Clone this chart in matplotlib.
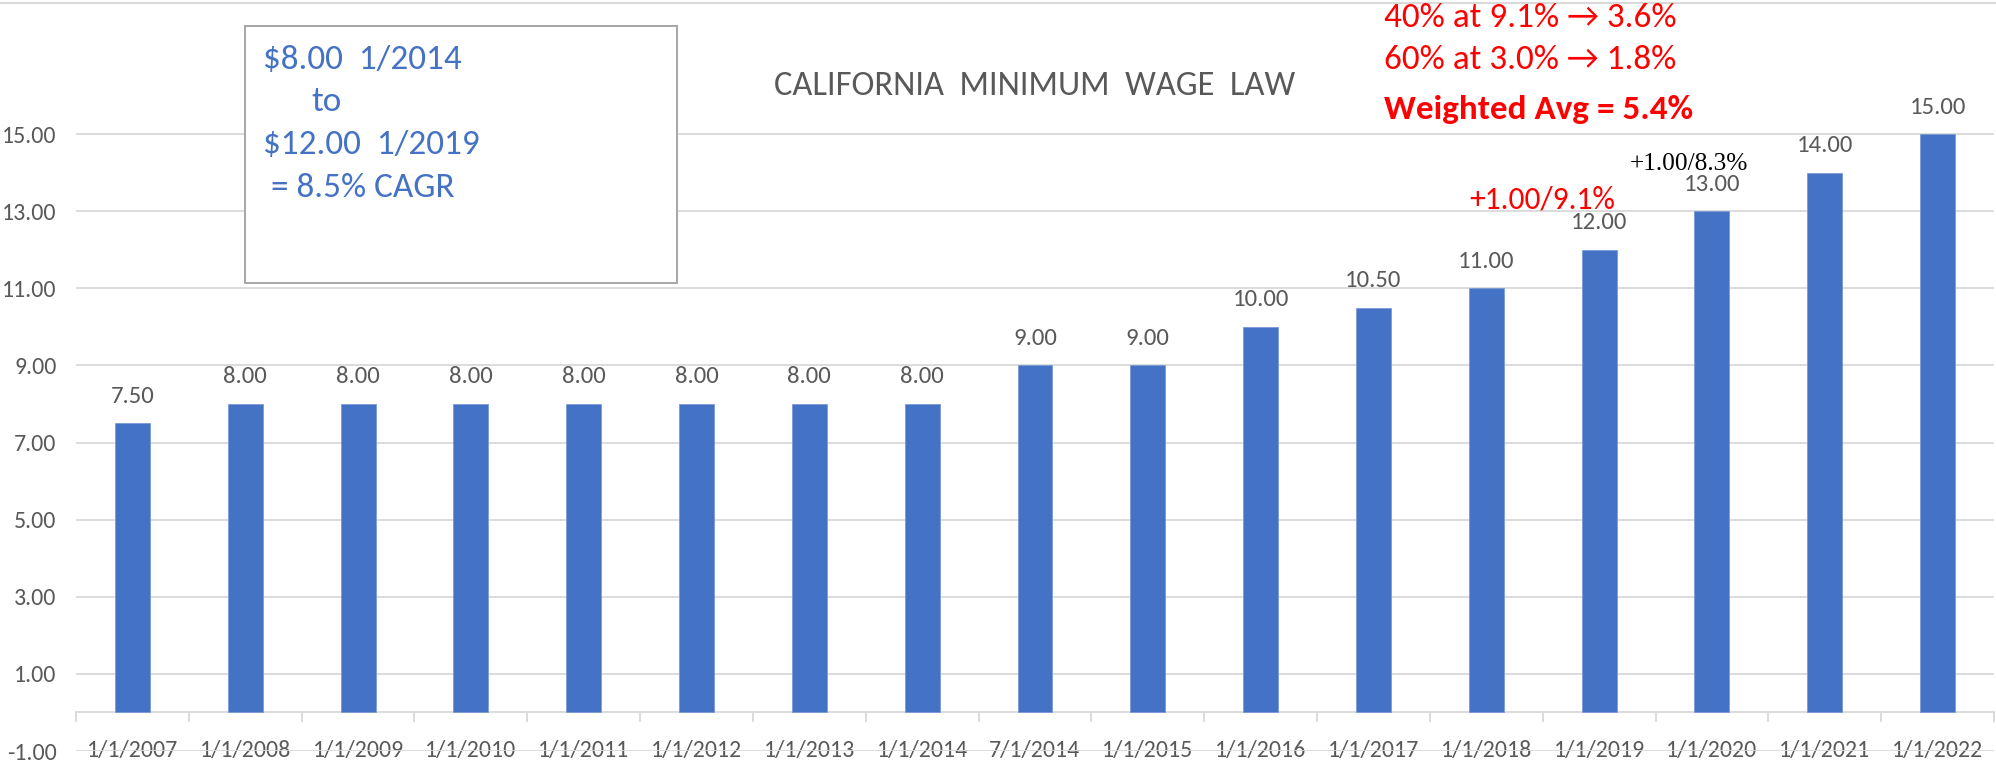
import matplotlib
matplotlib.use("Agg")
import matplotlib.pyplot as plt
from matplotlib.patches import Rectangle
from matplotlib.lines import Line2D

# ---- data ----
categories = ["1/1/2007", "1/1/2008", "1/1/2009", "1/1/2010", "1/1/2011", "1/1/2012",
              "1/1/2013", "1/1/2014", "7/1/2014", "1/1/2015", "1/1/2016", "1/1/2017",
              "1/1/2018", "1/1/2019", "1/1/2020", "1/1/2021", "1/1/2022"]
wages = [7.50, 8.00, 8.00, 8.00, 8.00, 8.00, 8.00, 8.00, 9.00, 9.00, 10.00, 10.50,
         11.00, 12.00, 13.00, 14.00, 15.00]
y_ticks = [-1, 1, 3, 5, 7, 9, 11, 13, 15]
title = "CALIFORNIA  MINIMUM  WAGE  LAW"
box_lines = ["$8.00  1/2014", "to", "$12.00  1/2019", " = 8.5% CAGR"]
red_lines = ["40% at 9.1% \u2192 3.6%", "60% at 3.0% \u2192 1.8%"]
red_bold = "Weighted Avg = 5.4%"
note_2019 = "+1.00/9.1%"
note_2020 = "+1.00/8.3%"

# ---- style ----
W, H = 1996, 776
BAR = "#4472C4"
GRID = "#D9D9D9"
GRAY = "#595959"
CAL = ["Carlito", "Liberation Sans", "DejaVu Sans"]

def fx(x):
    return x / W

def fy(y):
    return 1 - y / H

fig = plt.figure(figsize=(W / 100, H / 100), dpi=100)
fig.patch.set_facecolor("white")

ax_left, ax_right = 76, 1994
ax_top, ax_bottom = 3, 751
ax = fig.add_axes([fx(ax_left), fy(ax_bottom), (ax_right - ax_left) / W, (ax_bottom - ax_top) / H])

x = list(range(len(categories)))
bars = ax.bar(x, wages, width=0.31, color=BAR, edgecolor="#7A9BD6", linewidth=0.6, zorder=3)

ax.set_xlim(-0.5, len(categories) - 0.5)
ax.set_ylim(-1, 18.4)
ax.set_yticks(y_ticks)
ax.set_yticklabels([f"{v:.2f}" for v in y_ticks])
ax.yaxis.grid(True, color=GRID, linewidth=1.3, zorder=0)
ax.set_axisbelow(True)

for s in ["left", "right", "top"]:
    ax.spines[s].set_visible(False)
ax.spines["bottom"].set_position(("data", 0))
ax.spines["bottom"].set_color(GRID)
ax.spines["bottom"].set_linewidth(1.3)

ax.set_xticks(x)
ax.set_xticklabels(categories)
ax.set_xticks([i - 0.5 for i in range(len(categories) + 1)], minor=True)
ax.tick_params(axis="x", which="major", length=0, pad=19.5, labelsize=17.2, labelcolor=GRAY)
ax.tick_params(axis="x", which="minor", length=7, width=1.3, color=GRID, direction="out")
ax.tick_params(axis="y", length=0, pad=14, labelsize=17.2, labelcolor=GRAY)
for lab in ax.get_xticklabels() + ax.get_yticklabels():
    lab.set_family(CAL)

# value labels
for rect, v in zip(bars, wages):
    ax.annotate(f"{v:.2f}", (rect.get_x() + rect.get_width() / 2, v),
                xytext=(0, 19.5), textcoords="offset points", ha="center", va="center",
                fontsize=17.8, color=GRAY, family=CAL, zorder=4)

# top border line
fig.add_artist(Line2D([0, 1], [fy(3), fy(3)], color=GRID, linewidth=1.5))

# title
fig.text(fx(1035), fy(86), title, ha="center", va="center", fontsize=24.8,
         color=GRAY, family=CAL)

# text box
fig.add_artist(Rectangle((fx(245), fy(283)), (677 - 245) / W, (283 - 26) / H,
                         facecolor="white", edgecolor="#A6A6A6", linewidth=1.4, zorder=5))
box_pos = [(263, 60), (311, 102), (263, 145), (263, 188)]
for (bx, by), t in zip(box_pos, box_lines):
    fig.text(fx(bx), fy(by), t, ha="left", va="center", fontsize=25.3,
             color=BAR, family=CAL, zorder=6)

# red annotations
for t, yy in zip(red_lines, [18, 60]):
    fig.text(fx(1384), fy(yy), t, ha="left", va="center", fontsize=25.3,
             color="#FF0000", family=CAL)
fig.text(fx(1384), fy(109), red_bold, ha="left", va="center", fontsize=25.3,
         color="#FF0000", family=CAL, fontweight="bold")

fig.text(fx(1469), fy(200), note_2019, ha="left", va="center", fontsize=22.7,
         color="#FF0000", family=CAL)
fig.text(fx(1630), fy(164), note_2020, ha="left", va="center", fontsize=18.3,
         color="black", family=["Liberation Serif", "DejaVu Serif"])

fig.savefig("out.png", dpi=100, facecolor="white")
